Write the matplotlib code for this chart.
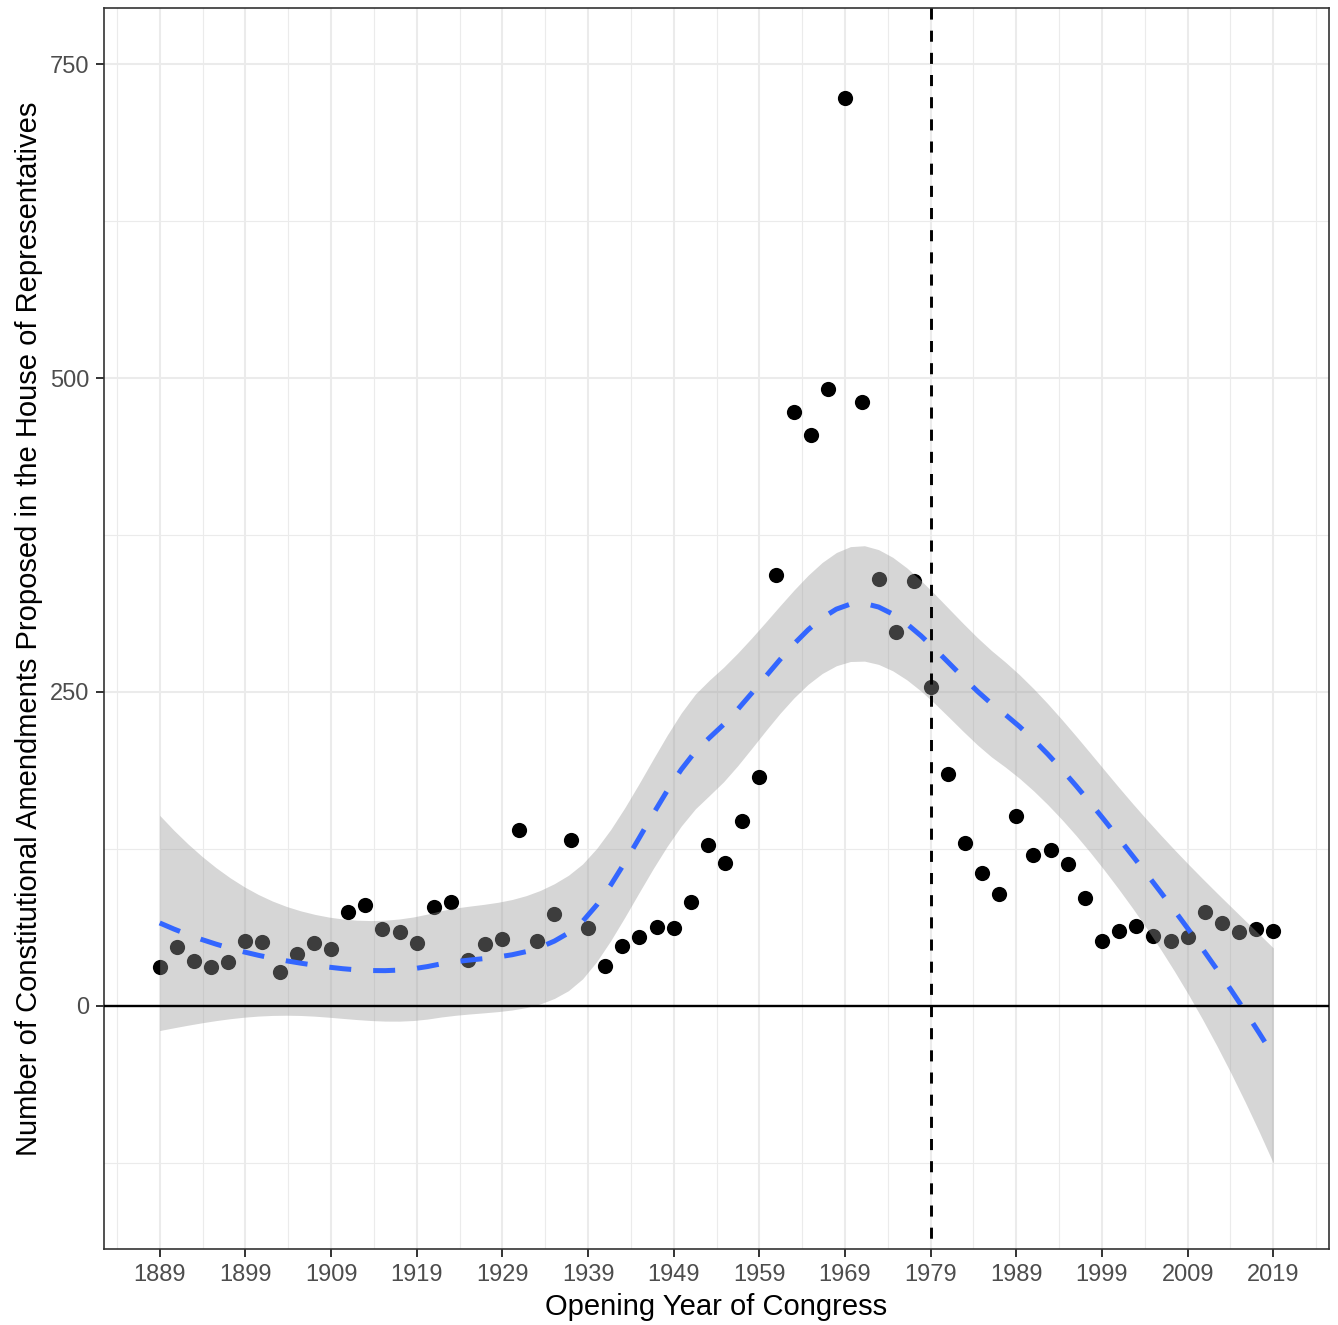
import numpy as np
import matplotlib
matplotlib.use("Agg")
import matplotlib.pyplot as plt

plt.rcParams['font.family'] = ['Liberation Sans', 'DejaVu Sans']

# opening year of each Congress and amendments proposed in the House
years = np.arange(1889, 2020, 2)
amendments = [31, 47, 36, 31, 35, 52, 51, 27, 41, 50,
              45, 75, 80, 61, 59, 50, 79, 83, 37, 49,
              53, 140, 52, 73, 132, 62, 32, 48, 55, 63,
              62, 83, 128, 114, 147, 182, 343, 473, 455, 491,
              723, 481, 340, 298, 338, 254, 185, 130, 106, 89,
              151, 120, 124, 113, 86, 52, 60, 64, 56, 52,
              55, 75, 66, 59, 61, 60]
x_ticks = list(range(1889, 2020, 10))
y_ticks = [0, 250, 500, 750]
cutoff_year = 1979


def local_rows(x, x0, span=0.75):
    # local quadratic with tricube weights; returns value and slope operator rows
    n = len(x)
    q = int(np.floor(n * span))
    d = np.abs(x - x0)
    h = np.sort(d)[q - 1]
    w = np.clip(1 - (d / h) ** 3, 0, None) ** 3
    X = np.column_stack([np.ones(n), x - x0, (x - x0) ** 2])
    XtW = X.T * w
    B = np.linalg.solve(XtW @ X, XtW)
    return B[0], B[1]


def kd_vertices(x, fc):
    xs = np.sort(x)
    mu = 0.005 * (xs[-1] - xs[0])
    verts = [xs[0] - mu, xs[-1] + mu]
    cells = [(0, len(xs) - 1)]
    while cells:
        l, u = cells.pop()
        if u - l + 1 <= fc:
            continue
        m = (l + u) // 2
        verts.append(xs[m])
        cells += [(l, m), (m + 1, u)]
    return np.unique(verts)


def loess_operator(x, xs, span=0.75, cell=0.2):
    # R-style loess surface: exact fits at kd-tree vertices, cubic Hermite between
    fc = int(np.floor(len(x) * span * cell))
    v = kd_vertices(x, fc)
    vals, slopes = zip(*[local_rows(x, vk, span) for vk in v])
    vals, slopes = np.array(vals), np.array(slopes)
    L = np.zeros((len(xs), len(x)))
    for j, x0 in enumerate(xs):
        i = min(max(np.searchsorted(v, x0) - 1, 0), len(v) - 2)
        hgt = v[i + 1] - v[i]
        t = (x0 - v[i]) / hgt
        h00 = 2 * t ** 3 - 3 * t ** 2 + 1
        h10 = t ** 3 - 2 * t ** 2 + t
        h01 = -2 * t ** 3 + 3 * t ** 2
        h11 = t ** 3 - t ** 2
        L[j] = (h00 * vals[i] + h10 * hgt * slopes[i]
                + h01 * vals[i + 1] + h11 * hgt * slopes[i + 1])
    return L


x = years.astype(float)
y = np.array(amendments, dtype=float)
L = loess_operator(x, x)
resid = y - L @ y
M = np.eye(len(x)) - L
A = M.T @ M
d1 = np.trace(A)
d2 = np.trace(A @ A)
s = np.sqrt(np.sum(resid ** 2) / d1)
df = d1 ** 2 / d2
z = 1.959964
tq = z + (z ** 3 + z) / (4 * df) + (5 * z ** 5 + 16 * z ** 3 + 3 * z) / (96 * df ** 2)

grid = np.linspace(x.min(), x.max(), 80)
Lg = loess_operator(x, grid)
fit = Lg @ y
se = s * np.sqrt(np.sum(Lg ** 2, axis=1))

W, H = 1338, 1325
fig = plt.figure(figsize=(W / 100, H / 100), dpi=100)
ax = fig.add_axes([104 / W, (H - 1249) / H, (1329 - 104) / W, (1249 - 8) / H])

ax.scatter(years, amendments, s=120, color='black', linewidths=0, zorder=2)
ax.fill_between(grid, fit - tq * se, fit + tq * se, color='#999999', alpha=0.4,
                linewidth=0, zorder=3)
ax.plot(grid, fit, color='#3366FF', lw=3.6, linestyle=(0, (4.4, 4.4)), zorder=4)
ax.axhline(0, color='black', lw=1.7, zorder=5)
ax.plot([cutoff_year, cutoff_year], [1, 0], transform=ax.get_xaxis_transform(),
        color='black', lw=2.1, linestyle=(0, (3.8, 3.8)), zorder=5)

ax.set_xlim(1882.5, 2025.5)
ax.set_ylim(-193.5, 794.6)
ax.set_xticks(x_ticks)
ax.set_xticks([t + 5 for t in [1879] + x_ticks], minor=True)
ax.set_yticks(y_ticks)
ax.set_yticks([-125, 125, 375, 625], minor=True)
ax.grid(True, which='major', color='#EBEBEB', lw=1.5, zorder=0)
ax.grid(True, which='minor', color='#EBEBEB', lw=0.8, zorder=0)
ax.set_axisbelow(True)
ax.tick_params(which='major', length=5.5, width=1.4, color='#333333',
               labelsize=17, labelcolor='#4D4D4D', pad=5)
ax.tick_params(which='minor', length=0)
for sp in ax.spines.values():
    sp.set_color('#333333')
    sp.set_linewidth(1.2)

ax.set_xlabel('Opening Year of Congress', fontsize=21, labelpad=5)
ax.set_ylabel('Number of Constitutional Amendments Proposed in the House of Representatives',
              fontsize=21, labelpad=5)

fig.savefig('out.png', dpi=100)
